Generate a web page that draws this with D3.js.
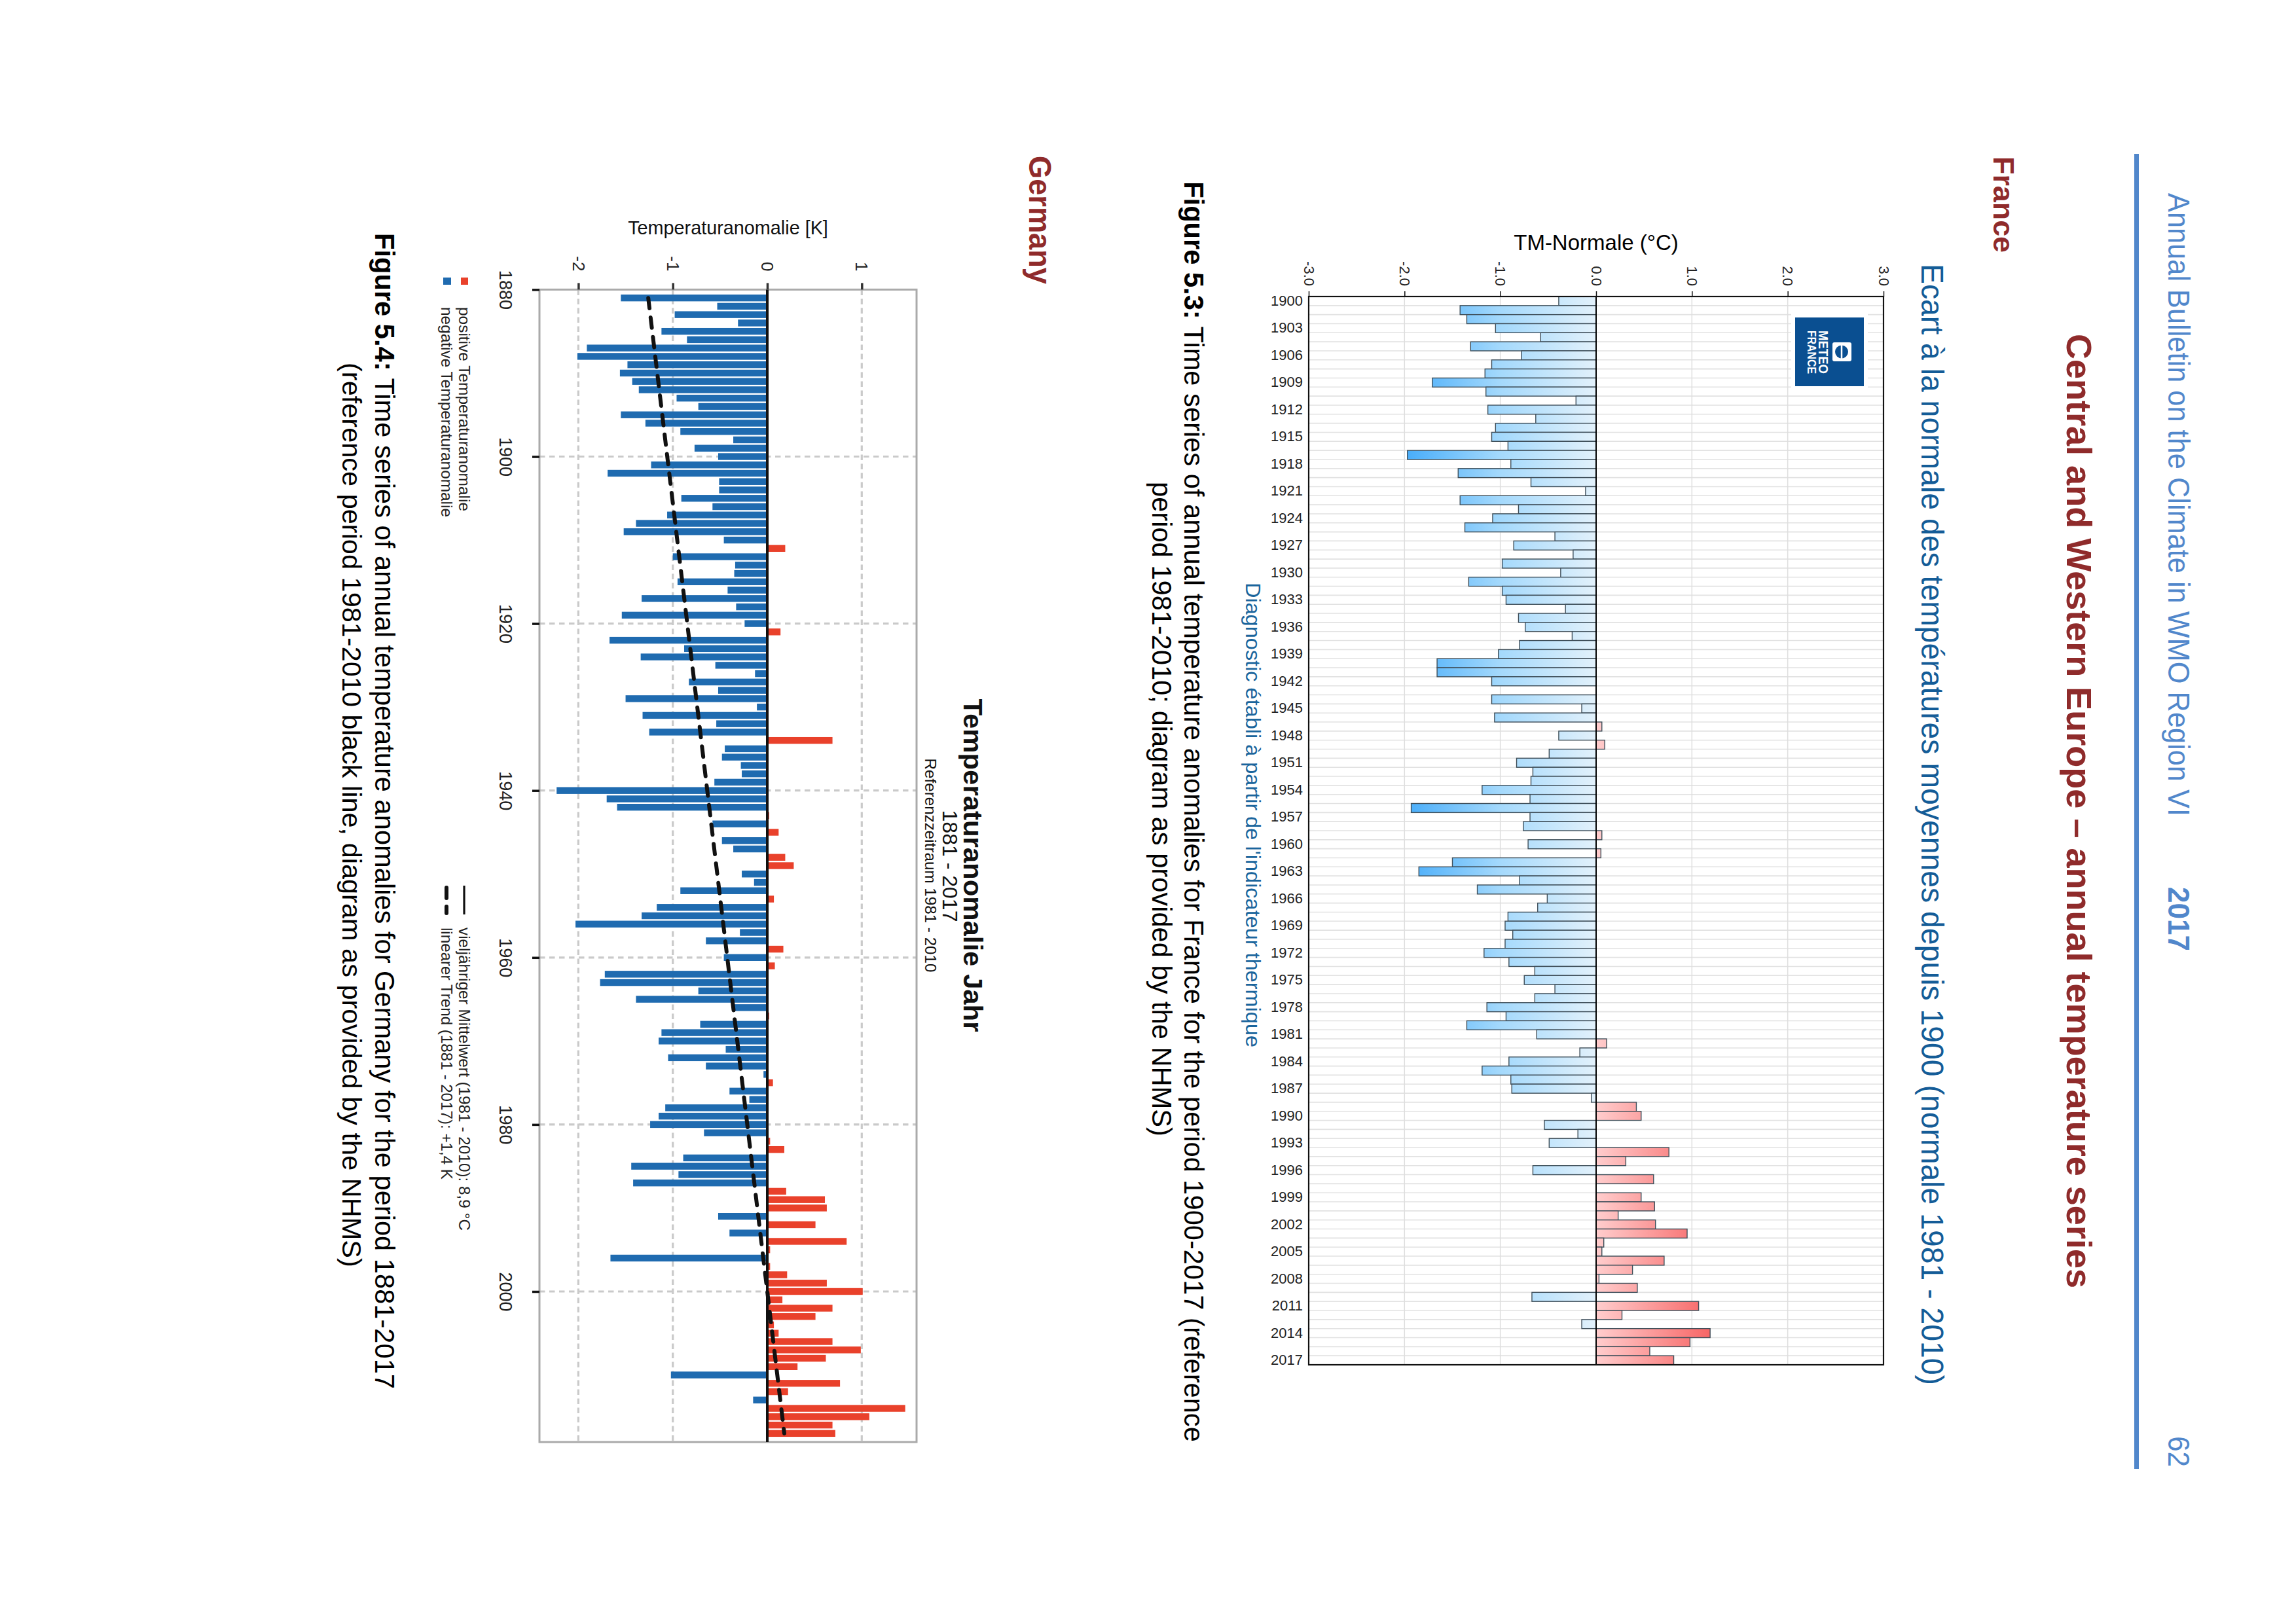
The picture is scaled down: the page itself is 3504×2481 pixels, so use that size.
<!DOCTYPE html>
<html><head><meta charset="utf-8">
<script src="https://cdn.jsdelivr.net/npm/d3@7"></script>
<style>
html,body{margin:0;padding:0;background:#fff}
svg{display:block}
text{font-family:"Liberation Sans",Arial,sans-serif}
</style></head><body>
<svg id="page" width="3504" height="2481" viewBox="0 0 3504 2481"></svg>
<script>
const franceYears = d3.range(1900, 2018);
const franceValues = [
-0.39,-1.42,-1.35,-1.05,-0.58,-1.31,-0.78,-1.09,-1.16,-1.71,
-1.15,-0.21,-1.13,-0.63,-1.05,-1.09,-0.92,-1.97,-0.89,-1.44,
-0.68,-0.11,-1.42,-0.81,-1.08,-1.37,-0.43,-0.86,-0.24,-0.98,
-0.37,-1.33,-0.98,-0.94,-0.32,-0.81,-0.74,-0.25,-0.80,-1.02,
-1.66,-1.66,-1.09,0,-1.09,-0.15,-1.06,0.06,-0.39,0.09,
-0.49,-0.83,-0.66,-0.68,-1.19,-0.69,-1.93,-0.69,-0.76,0.06,
-0.71,0.05,-1.50,-1.85,-0.80,-1.24,-0.51,-0.61,-0.92,-0.95,
-0.87,-0.95,-1.17,-0.91,-0.64,-0.75,-0.43,-0.64,-1.14,-0.94,
-1.35,-0.62,0.11,-0.17,-0.91,-1.19,-0.89,-0.88,-0.05,0.42,
0.47,-0.54,-0.19,-0.49,0.76,0.31,-0.66,0.60,0,0.47,
0.61,0.23,0.62,0.95,0.08,0.06,0.71,0.38,0.03,0.43,
-0.67,1.07,0.27,-0.15,1.19,0.98,0.56,0.81];
const franceValueTicks = [-3,-2,-1,0,1,2,3];
const franceYearTicks = d3.range(1900, 2018, 3);

const germanyYears = d3.range(1881, 2018);
const germanyValues = [
-1.55,-0.53,-0.98,-0.31,-1.12,-0.85,-1.91,-2.01,-1.48,-1.56,
-1.43,-1.36,-0.96,-0.73,-1.55,-1.29,-0.92,-0.36,-0.77,-0.52,
-1.23,-1.69,-0.51,-0.51,-0.91,-0.58,-1.06,-1.39,-1.52,-0.46,
0.19,-1.00,-0.34,-0.35,-0.95,-0.42,-1.33,-0.33,-1.54,-0.24,
0.14,-1.67,-0.88,-1.34,-0.55,-0.13,-0.83,-0.52,-1.50,-0.11,
-1.32,-0.54,-1.25,0.69,-0.45,-0.48,-0.28,-0.27,-0.56,-2.23,
-1.70,-1.59,0.02,-0.58,0.12,-0.48,-0.36,0.19,0.28,-0.27,
-0.14,-0.92,0.07,-1.17,-1.33,-2.03,-0.29,-0.65,0.17,-0.46,
0.08,-1.72,-1.77,-0.73,-1.39,-0.36,0.02,-0.71,-1.12,-1.15,
-0.44,-1.05,-0.65,-0.04,0.06,-0.40,-0.19,-1.08,-1.15,-1.24,
-0.67,0.03,0.18,-0.89,-1.44,-0.94,-1.42,0.20,0.61,0.63,
-0.52,0.51,-0.40,0.84,0.03,-1.66,0.03,0.21,0.63,1.01,
0.16,0.69,0.51,0.07,0.12,0.69,0.99,0.62,0.32,-1.02,
0.77,0.22,-0.15,1.46,1.08,0.69,0.72];
const germanyValueTicks = [-2,-1,0,1];
const germanyYearTicks = [1880,1900,1920,1940,1960,1980,2000];
const trendYears = [1881, 2017];
const trendValues = [-1.26, 0.18];

const svg = d3.select("#page");
const defs = svg.append("defs");

function hText(x, y, str, size, o = {}) {
  return svg.append("text").attr("x", x).attr("y", y).text(str)
    .attr("font-size", size).attr("fill", o.fill || "#111")
    .attr("font-weight", o.bold ? "bold" : null)
    .attr("text-anchor", o.anchor || "middle");
}
function vText(x, y, str, size, o = {}) {
  const t = svg.append("text").attr("transform", `translate(${x},${y}) rotate(90)`)
    .attr("font-size", size).attr("fill", o.fill || "#000")
    .attr("font-weight", o.bold ? "bold" : null)
    .attr("text-anchor", o.anchor || "start");
  if (o.boldPart) {
    t.append("tspan").attr("font-weight", "bold").text(o.boldPart);
    t.append("tspan").text(str);
  } else t.text(str);
  if (o.len) t.attr("textLength", o.len).attr("lengthAdjust", "spacingAndGlyphs");
  return t;
}

/* ---------- page furniture ---------- */
const headBlue = "#5187cb", darkRed = "#8f2b2b", frBlue = "#145c97";
svg.append("rect").attr("x", 3260).attr("y", 235).attr("width", 7).attr("height", 2009).attr("fill", headBlue);
vText(3312, 295, "Annual Bulletin on the Climate in WMO Region VI", 46, {fill: headBlue, len: 952});
vText(3312, 1355, "2017", 46, {fill: headBlue, bold: true, len: 98});
vText(3312, 2194, "62", 46, {fill: headBlue, len: 47});
vText(3157, 510, "Central and Western Europe – annual temperature series", 53, {fill: darkRed, bold: true, len: 1458});
vText(3045, 239, "France", 45, {fill: darkRed, bold: true, len: 147});
vText(2935, 403, "Ecart à la normale des températures moyennes depuis 1900 (normale 1981 - 2010)", 48, {fill: frBlue, len: 1713});
vText(1903, 890, "Diagnostic établi à partir de l'indicateur thermique", 31, {fill: "#1a659c", len: 710});
vText(1809, 1240, " Time series of annual temperature anomalies for France for the period 1900-2017 (reference", 41.65, {boldPart: "Figure 5.3:", anchor: "middle"});
vText(1760, 1236, "period 1981-2010; diagram as provided by the NHMS)", 41.65, {anchor: "middle"});
vText(1572, 238, "Germany", 48, {fill: darkRed, bold: true, len: 196});
vText(1472, 1322, "Temperaturanomalie Jahr", 41, {bold: true, anchor: "middle", fill: "#111", len: 509});
vText(1440, 1323, "1881 - 2017", 32, {anchor: "middle", fill: "#111", len: 171});
vText(1413, 1322, "Referenzzeitraum 1981 - 2010", 24, {anchor: "middle", fill: "#111", len: 327});
vText(573, 356, " Time series of annual temperature anomalies for Germany for the period 1881-2017", 41.65, {boldPart: "Figure 5.4:"});
vText(523, 554, "(reference period 1981-2010 black line, diagram as provided by the NHMS)", 41.5);

/* ---------- France chart ---------- */
const xF = d3.scaleLinear().domain([-3, 3]).range([1999, 2877]);
const yF = d3.scaleBand().domain(franceYears).range([453, 2085]).padding(0);
const gradB = defs.append("linearGradient").attr("id", "frBlue").attr("gradientUnits", "userSpaceOnUse")
  .attr("x1", xF(-2)).attr("x2", xF(0)).attr("y1", 0).attr("y2", 0);
gradB.append("stop").attr("offset", 0).attr("stop-color", "#46acfa");
gradB.append("stop").attr("offset", 0.5).attr("stop-color", "#a4d9fc");
gradB.append("stop").attr("offset", 1).attr("stop-color", "#e2f1fb");
const gradR = defs.append("linearGradient").attr("id", "frRed").attr("gradientUnits", "userSpaceOnUse")
  .attr("x1", xF(0)).attr("x2", xF(1.2)).attr("y1", 0).attr("y2", 0);
gradR.append("stop").attr("offset", 0).attr("stop-color", "#ffcdcd");
gradR.append("stop").attr("offset", 1).attr("stop-color", "#f76565");

const fr = svg.append("g");
fr.append("g").selectAll("line").data(franceYears.slice(1)).join("line")
  .attr("x1", xF.range()[0]).attr("x2", xF.range()[1])
  .attr("y1", d => yF(d)).attr("y2", d => yF(d)).attr("stroke", "#e2e2e2").attr("stroke-width", 1.6);
fr.append("g").selectAll("line").data(franceValueTicks).join("line")
  .attr("x1", d => xF(d)).attr("x2", d => xF(d))
  .attr("y1", yF.range()[0]).attr("y2", yF.range()[1]).attr("stroke", "#dedede").attr("stroke-width", 1.5);

/* logo with its white halo */
fr.append("rect").attr("x", 2736).attr("y", 478).attr("width", 117).attr("height", 118).attr("fill", "#fff");
fr.append("rect").attr("x", 2742).attr("y", 485).attr("width", 105).attr("height", 105).attr("fill", "#0a4f91");
fr.append("rect").attr("x", 2799).attr("y", 523).attr("width", 29).attr("height", 29).attr("rx", 3).attr("fill", "#fff");
fr.append("circle").attr("cx", 2813).attr("cy", 537.5).attr("r", 10).attr("fill", "#0a4f91");
fr.append("line").attr("x1", 2813).attr("x2", 2813).attr("y1", 527).attr("y2", 548).attr("stroke", "#fff").attr("stroke-width", 2.5);
vText(2778, 505, "METEO", 20, {fill: "#fff", bold: true, len: 66});
vText(2761, 505, "FRANCE", 19, {fill: "#fff", bold: true, len: 66});

const frRows = franceYears.map((y, i) => ({year: y, v: franceValues[i]})).filter(d => d.v !== 0);
fr.append("g").selectAll("rect").data(frRows).join("rect")
  .attr("x", d => xF(Math.min(d.v, 0)))
  .attr("y", d => yF(d.year))
  .attr("width", d => Math.abs(xF(d.v) - xF(0)))
  .attr("height", yF.bandwidth())
  .attr("fill", d => d.v < 0 ? "url(#frBlue)" : "url(#frRed)")
  .attr("stroke", "#3f4f5a").attr("stroke-width", 1.4);
fr.append("line").attr("x1", xF(0)).attr("x2", xF(0)).attr("y1", yF.range()[0]).attr("y2", yF.range()[1])
  .attr("stroke", "#000").attr("stroke-width", 2);
fr.append("rect").attr("x", xF.range()[0]).attr("y", yF.range()[0])
  .attr("width", xF.range()[1] - xF.range()[0]).attr("height", yF.range()[1] - yF.range()[0])
  .attr("fill", "none").attr("stroke", "#111").attr("stroke-width", 2.2);

const frTop = fr.append("g").attr("transform", `translate(0,${yF.range()[0]})`)
  .call(d3.axisTop(xF).tickValues(franceValueTicks).tickSize(8).tickFormat(d => d.toFixed(1)));
frTop.select(".domain").remove();
frTop.selectAll("line").attr("stroke", "#111").attr("stroke-width", 1.5);
frTop.selectAll("text").attr("font-size", 22).attr("fill", "#222").attr("font-family", null)
  .attr("text-anchor", "end").attr("x", -16).attr("y", 0).attr("dy", "0.36em").attr("transform", "rotate(90)");
const frLeft = fr.append("g").attr("transform", `translate(${xF.range()[0]},0)`)
  .call(d3.axisLeft(yF).tickValues(franceYearTicks).tickSize(0).tickPadding(9));
frLeft.select(".domain").remove();
frLeft.selectAll("text").attr("font-size", 22).attr("fill", "#222").attr("font-family", null);
hText(2438, 382, "TM-Normale (°C)", 33, {fill: "#000"});

/* ---------- Germany chart ---------- */
const xG = d3.scaleLinear().domain([-2, 1]).range([1172 - 2 * 144.3, 1172 + 144.3]);
const yG = d3.scaleLinear().domain([1880, 2000]).range([442.4, 1973]);
const boxG = {x0: 824, x1: 1400, y0: 442.4, y1: 2203};
const de = svg.append("g");
de.append("g").selectAll("line").data(germanyValueTicks).join("line")
  .attr("x1", d => xG(d)).attr("x2", d => xG(d)).attr("y1", boxG.y0).attr("y2", boxG.y1)
  .attr("stroke", "#cacaca").attr("stroke-width", 3.2).attr("stroke-dasharray", "8.5 5.5");
de.append("g").selectAll("line").data(germanyYearTicks.slice(1)).join("line")
  .attr("x1", boxG.x0).attr("x2", boxG.x1).attr("y1", d => yG(d)).attr("y2", d => yG(d))
  .attr("stroke", "#cacaca").attr("stroke-width", 3.2).attr("stroke-dasharray", "8.5 6.5");
const deRows = germanyYears.map((y, i) => ({year: y, v: germanyValues[i]}));
de.append("g").selectAll("rect").data(deRows).join("rect")
  .attr("x", d => xG(Math.min(d.v, 0)))
  .attr("y", d => yG(d.year) - 5.2)
  .attr("width", d => Math.abs(xG(d.v) - xG(0)))
  .attr("height", 10.4)
  .attr("fill", d => d.v < 0 ? "#1f6bb0" : "#e9412b");
de.append("rect").attr("x", boxG.x0).attr("y", boxG.y0).attr("width", boxG.x1 - boxG.x0).attr("height", boxG.y1 - boxG.y0)
  .attr("fill", "none").attr("stroke", "#aaa").attr("stroke-width", 3);
de.append("line").attr("x1", xG(0)).attr("x2", xG(0)).attr("y1", boxG.y0).attr("y2", boxG.y1)
  .attr("stroke", "#111").attr("stroke-width", 4);
const trendLine = d3.line().x(d => xG(d.v)).y(d => yG(d.y));
de.append("path").attr("d", trendLine(trendYears.map((y, i) => ({y, v: trendValues[i]}))))
  .attr("fill", "none").attr("stroke", "#111").attr("stroke-width", 6)
  .attr("stroke-linecap", "round").attr("stroke-dasharray", "16 14");

const deTop = de.append("g").attr("transform", `translate(0,${boxG.y0})`)
  .call(d3.axisTop(xG).tickValues(germanyValueTicks).tickSize(10).tickFormat(d => String(d)));
deTop.select(".domain").remove();
deTop.selectAll("line").attr("stroke", "#333").attr("stroke-width", 3.5);
deTop.selectAll("text").attr("font-size", 26).attr("fill", "#222").attr("font-family", null)
  .attr("text-anchor", "end").attr("x", -28).attr("y", 0).attr("dy", "0.36em").attr("transform", "rotate(90)");
const deLeft = de.append("g").attr("transform", `translate(${boxG.x0},0)`)
  .call(d3.axisLeft(yG).tickValues(germanyYearTicks).tickSize(11).tickFormat(d3.format("d")));
deLeft.select(".domain").remove();
deLeft.selectAll("line").attr("stroke", "#111").attr("stroke-width", 3.5);
deLeft.selectAll("text").attr("font-size", 27).attr("fill", "#222").attr("font-family", null)
  .attr("text-anchor", "middle").attr("x", 0).attr("y", 0).attr("dy", 0)
  .attr("transform", "translate(-61,0) rotate(90)");
hText(1112, 358, "Temperaturanomalie [K]", 28.8, {fill: "#111"});

/* legend */
de.append("rect").attr("x", 704).attr("y", 424).attr("width", 11).attr("height", 11).attr("fill", "#e9412b");
de.append("rect").attr("x", 677).attr("y", 424).attr("width", 12).attr("height", 11).attr("fill", "#1f6bb0");
vText(701, 469, "positive Temperaturanomalie", 24, {fill: "#222", len: 312});
vText(674, 469, "negative Temperaturanomalie", 24, {fill: "#222", len: 321});
de.append("line").attr("x1", 709).attr("x2", 709).attr("y1", 1353).attr("y2", 1397).attr("stroke", "#111").attr("stroke-width", 3.2);
de.append("line").attr("x1", 682).attr("x2", 682).attr("y1", 1356).attr("y2", 1395).attr("stroke", "#111").attr("stroke-width", 6)
  .attr("stroke-linecap", "round").attr("stroke-dasharray", "16 13");
vText(701, 1417, "vieljähriger Mittelwert (1981 - 2010): 8,9 °C", 24, {fill: "#222", len: 463});
vText(674, 1417, "linearer Trend (1881 - 2017): +1,4 K", 24, {fill: "#222", len: 385});
</script>
</body></html>
